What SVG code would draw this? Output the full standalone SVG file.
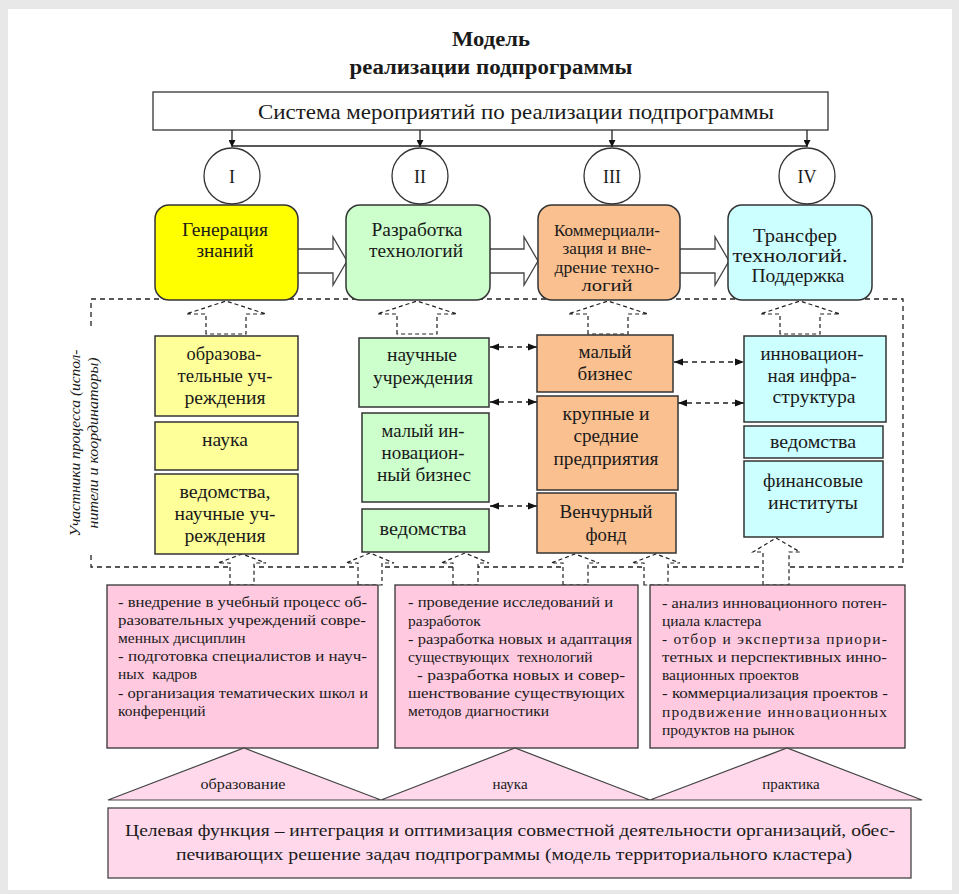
<svg xmlns="http://www.w3.org/2000/svg" width="959" height="894" viewBox="0 0 959 894" font-family="'Liberation Serif', serif">
<defs>
<style>
text{fill:#1a1a1a}
.t{font-size:19px;text-anchor:middle}
.ts{font-size:17px;text-anchor:middle}
.p{font-size:15.5px}
.rb{stroke:#333;stroke-width:1.5}
.bx{stroke:#333;stroke-width:1.5}
.dash{fill:#fff;stroke:#222;stroke-width:1.2;stroke-dasharray:4,3}
.dl{fill:none;stroke:#222;stroke-width:1.3;stroke-dasharray:5,4}
.sl{fill:none;stroke:#222;stroke-width:1.3}
.bk{fill:#fff;stroke:#444;stroke-width:1.3}
.pk{fill:#ffc9df;stroke:#333;stroke-width:1.3}
.tri{fill:#ffd9eb;stroke:#444;stroke-width:1.2}
</style>
<marker id="ah" viewBox="0 0 10 10" refX="10" refY="5" markerWidth="7" markerHeight="7" orient="auto-start-reverse" markerUnits="userSpaceOnUse">
<path d="M0,0 L10,5 L0,10 z" fill="#111"/>
</marker>
<marker id="ad" viewBox="0 0 10 10" refX="10" refY="5" markerWidth="9" markerHeight="9" orient="auto-start-reverse" markerUnits="userSpaceOnUse">
<path d="M0,1 L10,5 L0,9 z" fill="#111"/>
</marker>
</defs>
<rect x="0" y="0" width="959" height="894" fill="#e8e8e8"/>
<rect x="8" y="9" width="944" height="881" fill="#fff"/>

<g id="title" font-family="'Liberation Serif', serif">
<text x="491" y="46" font-size="20" font-weight="bold" text-anchor="middle" textLength="78" lengthAdjust="spacingAndGlyphs">Модель</text>
<text x="491" y="74" font-size="20" font-weight="bold" text-anchor="middle" textLength="283" lengthAdjust="spacingAndGlyphs">реализации подпрограммы</text>
</g>

<g id="system" font-family="'Liberation Serif', serif">
<rect x="153" y="92" width="675" height="38" fill="#fff" stroke="#333" stroke-width="1.3"/>
<text x="516" y="119" font-size="21" text-anchor="middle" textLength="516" lengthAdjust="spacingAndGlyphs">Система мероприятий по реализации подпрограммы</text>
</g>

<g id="connectors">
<line class="sl" x1="232" y1="146" x2="807" y2="146"/>
<line class="sl" x1="232" y1="130" x2="232" y2="147" marker-end="url(#ah)"/>
<line class="sl" x1="420" y1="130" x2="420" y2="147" marker-end="url(#ah)"/>
<line class="sl" x1="612" y1="130" x2="612" y2="147" marker-end="url(#ah)"/>
<line class="sl" x1="807" y1="130" x2="807" y2="147" marker-end="url(#ah)"/>
<path class="bk" d="M298,249 H333 V237 L347,261 L333,285 V273 H298"/>
<path class="bk" d="M490,249 H524 V237 L538,261 L524,285 V273 H490"/>
<path class="bk" d="M680,249 H715 V237 L729,261 L715,285 V273 H680"/>
<rect class="dl" x="91" y="299" width="812" height="268"/>
<path class="dash" d="M206,334 V314 H186 L226,301 L266,314 H246 V334 Z"/>
<path class="dash" d="M397,334 V314 H377 L417,301 L457,314 H437 V334 Z"/>
<path class="dash" d="M588,334 V314 H568 L608,301 L648,314 H628 V334 Z"/>
<path class="dash" d="M780,334 V314 H760 L800,301 L840,314 H820 V334 Z"/>
<path class="dash" d="M230,585 V563 H218 L242,554 L266,563 H254 V585 Z"/>
<path class="dash" d="M358,585 V563 H346 L370,553 L394,563 H382 V585 Z"/>
<path class="dash" d="M453,585 V563 H441 L465,553 L489,563 H478 V585 Z"/>
<path class="dash" d="M563,585 V563 H551 L575,554 L599,563 H588 V585 Z"/>
<path class="dash" d="M644,585 V563 H632 L656,554 L680,563 H668 V585 Z"/>
<path class="dash" d="M763,585 V552 H753 L776,538 L800,552 H789 V585 Z"/>
<line class="dl" x1="490" y1="347" x2="537" y2="347" marker-start="url(#ad)" marker-end="url(#ad)"/>
<line class="dl" x1="490" y1="402" x2="537" y2="402" marker-start="url(#ad)" marker-end="url(#ad)"/>
<line class="dl" x1="490" y1="506" x2="537" y2="506" marker-start="url(#ad)" marker-end="url(#ad)"/>
<line class="dl" x1="674" y1="362" x2="744" y2="362" marker-start="url(#ad)" marker-end="url(#ad)"/>
<line class="dl" x1="678" y1="403" x2="744" y2="403" marker-start="url(#ad)" marker-end="url(#ad)"/>
</g>

<g id="stage-I" font-family="'Liberation Serif', serif">
<ellipse cx="232" cy="176" rx="28" ry="28" fill="#fff" stroke="#333" stroke-width="1.3"/>
<text x="232" y="183" font-size="18" text-anchor="middle">I</text>
</g>
<g id="stage-II" font-family="'Liberation Serif', serif">
<ellipse cx="420" cy="176" rx="28" ry="28" fill="#fff" stroke="#333" stroke-width="1.3"/>
<text x="420" y="183" font-size="18" text-anchor="middle">II</text>
</g>
<g id="stage-III" font-family="'Liberation Serif', serif">
<ellipse cx="612" cy="176" rx="28" ry="28" fill="#fff" stroke="#333" stroke-width="1.3"/>
<text x="612" y="183" font-size="18" text-anchor="middle">III</text>
</g>
<g id="stage-IV" font-family="'Liberation Serif', serif">
<ellipse cx="807" cy="176" rx="28" ry="28" fill="#fff" stroke="#333" stroke-width="1.3"/>
<text x="807" y="183" font-size="18" text-anchor="middle">IV</text>
</g>

<g id="gen" font-family="'Liberation Serif', serif">
<rect class="rb" x="155" y="205" width="143" height="95" rx="14" fill="#ffff00"/>
<text class="t" x="225" y="236" textLength="86" lengthAdjust="spacingAndGlyphs">Генерация</text>
<text class="t" x="225" y="257" textLength="57" lengthAdjust="spacingAndGlyphs">знаний</text>
</g>
<g id="dev" font-family="'Liberation Serif', serif">
<rect class="rb" x="346" y="205" width="144" height="95" rx="14" fill="#ccffcc"/>
<text class="t" x="417" y="236" textLength="91" lengthAdjust="spacingAndGlyphs">Разработка</text>
<text class="t" x="416" y="257" textLength="94" lengthAdjust="spacingAndGlyphs">технологий</text>
</g>
<g id="comm" font-family="'Liberation Serif', serif">
<rect class="rb" x="538" y="205" width="142" height="95" rx="14" fill="#fac090"/>
<text class="ts" x="607" y="236" textLength="106" lengthAdjust="spacingAndGlyphs">Коммерциали-</text>
<text class="ts" x="607" y="254" textLength="89" lengthAdjust="spacingAndGlyphs">зация и вне-</text>
<text class="ts" x="607" y="273" textLength="105" lengthAdjust="spacingAndGlyphs">дрение  техно-</text>
<text class="ts" x="607" y="291" textLength="51" lengthAdjust="spacingAndGlyphs">логий</text>
</g>
<g id="transfer" font-family="'Liberation Serif', serif">
<rect class="rb" x="728" y="205" width="144" height="95" rx="14" fill="#ccffff"/>
<text class="t" x="795" y="242" font-size="20" textLength="84" lengthAdjust="spacingAndGlyphs">Трансфер</text>
<text class="t" x="790" y="262" font-size="20" textLength="115" lengthAdjust="spacingAndGlyphs">технологий.</text>
<text class="t" x="798" y="282" font-size="20" textLength="93" lengthAdjust="spacingAndGlyphs">Поддержка</text>
</g>

<g id="p1-edu" font-family="'Liberation Serif', serif">
<rect class="bx" x="155" y="336" width="143" height="80" fill="#ffff99"/>
<text class="t" x="224" y="360" textLength="75" lengthAdjust="spacingAndGlyphs">образова-</text>
<text class="t" x="225" y="382" textLength="95" lengthAdjust="spacingAndGlyphs">тельные уч-</text>
<text class="t" x="225" y="404" textLength="81" lengthAdjust="spacingAndGlyphs">реждения</text>
</g>
<g id="p1-sci" font-family="'Liberation Serif', serif">
<rect class="bx" x="155" y="422" width="143" height="48" fill="#ffff99"/>
<text class="t" x="225" y="446" textLength="46" lengthAdjust="spacingAndGlyphs">наука</text>
</g>
<g id="p1-dept" font-family="'Liberation Serif', serif">
<rect class="bx" x="155" y="474" width="143" height="80" fill="#ffff99"/>
<text class="t" x="225" y="498" textLength="91" lengthAdjust="spacingAndGlyphs">ведомства,</text>
<text class="t" x="225" y="520" textLength="101" lengthAdjust="spacingAndGlyphs">научные уч-</text>
<text class="t" x="225" y="542" textLength="81" lengthAdjust="spacingAndGlyphs">реждения</text>
</g>

<g id="p2-sci" font-family="'Liberation Serif', serif">
<rect class="bx" x="359" y="338" width="130" height="69" fill="#ccffcc"/>
<text class="t" x="422" y="361" textLength="70" lengthAdjust="spacingAndGlyphs">научные</text>
<text class="t" x="423" y="384" textLength="100" lengthAdjust="spacingAndGlyphs">учреждения</text>
</g>
<g id="p2-small" font-family="'Liberation Serif', serif">
<rect class="bx" x="362" y="413" width="127" height="89" fill="#ccffcc"/>
<text class="t" x="423" y="437" textLength="83" lengthAdjust="spacingAndGlyphs">малый ин-</text>
<text class="t" x="423" y="459" textLength="83" lengthAdjust="spacingAndGlyphs">новацион-</text>
<text class="t" x="424" y="481" textLength="94" lengthAdjust="spacingAndGlyphs">ный бизнес</text>
</g>
<g id="p2-dept" font-family="'Liberation Serif', serif">
<rect class="bx" x="362" y="509" width="127" height="43" fill="#ccffcc"/>
<text class="t" x="423" y="535" textLength="87" lengthAdjust="spacingAndGlyphs">ведомства</text>
</g>

<g id="p3-small" font-family="'Liberation Serif', serif">
<rect class="bx" x="537" y="335" width="136" height="57" fill="#fac090"/>
<text class="t" x="605" y="358" textLength="53" lengthAdjust="spacingAndGlyphs">малый</text>
<text class="t" x="605" y="380" textLength="55" lengthAdjust="spacingAndGlyphs">бизнес</text>
</g>
<g id="p3-large" font-family="'Liberation Serif', serif">
<rect class="bx" x="537" y="396" width="141" height="94" fill="#fac090"/>
<text class="t" x="606" y="420" textLength="87" lengthAdjust="spacingAndGlyphs">крупные и</text>
<text class="t" x="606" y="442" textLength="65" lengthAdjust="spacingAndGlyphs">средние</text>
<text class="t" x="606" y="465" textLength="105" lengthAdjust="spacingAndGlyphs">предприятия</text>
</g>
<g id="p3-venture" font-family="'Liberation Serif', serif">
<rect class="bx" x="537" y="493" width="139" height="60" fill="#fac090"/>
<text class="t" x="606" y="518" textLength="93" lengthAdjust="spacingAndGlyphs">Венчурный</text>
<text class="t" x="606" y="541" textLength="41" lengthAdjust="spacingAndGlyphs">фонд</text>
</g>

<g id="p4-infra" font-family="'Liberation Serif', serif">
<rect class="bx" x="744" y="336" width="142" height="86" fill="#ccffff"/>
<text class="t" x="812" y="360" textLength="103" lengthAdjust="spacingAndGlyphs">инновацион-</text>
<text class="t" x="812" y="382" textLength="89" lengthAdjust="spacingAndGlyphs">ная инфра-</text>
<text class="t" x="814" y="403" textLength="83" lengthAdjust="spacingAndGlyphs">структура</text>
</g>
<g id="p4-dept" font-family="'Liberation Serif', serif">
<rect class="bx" x="744" y="426" width="139" height="32" fill="#ccffff"/>
<text class="t" x="813" y="448" textLength="86" lengthAdjust="spacingAndGlyphs">ведомства</text>
</g>
<g id="p4-fin" font-family="'Liberation Serif', serif">
<rect class="bx" x="744" y="461" width="139" height="76" fill="#ccffff"/>
<text class="t" x="813" y="487" textLength="100" lengthAdjust="spacingAndGlyphs">финансовые</text>
<text class="t" x="813" y="509" textLength="90" lengthAdjust="spacingAndGlyphs">институты</text>
</g>

<g id="participants-label" font-family="'Liberation Serif', serif">
<rect x="64" y="330" width="42" height="222" fill="#fff"/>
<text transform="translate(80,443) rotate(-90)" font-size="15" font-style="italic" text-anchor="middle" textLength="187" lengthAdjust="spacingAndGlyphs">Участники процесса (испол-</text>
<text transform="translate(98,443) rotate(-90)" font-size="15" font-style="italic" text-anchor="middle" textLength="171" lengthAdjust="spacingAndGlyphs">нители и координаторы)</text>
</g>

<g id="tasks-edu" font-family="'Liberation Serif', serif">
<rect class="pk" x="107" y="585" width="271" height="163"/>
<text class="p" x="118" y="607" textLength="249" lengthAdjust="spacingAndGlyphs">-  внедрение в учебный процесс об-</text>
<text class="p" x="118" y="625" textLength="248" lengthAdjust="spacingAndGlyphs">разовательных учреждений совре-</text>
<text class="p" x="118" y="643">менных дисциплин</text>
<text class="p" x="118" y="661" textLength="249" lengthAdjust="spacingAndGlyphs">-  подготовка специалистов и науч-</text>
<text class="p" x="118" y="679" xml:space="preserve">ных  кадров</text>
<text class="p" x="118" y="698" textLength="250" lengthAdjust="spacingAndGlyphs">- организация тематических школ и</text>
<text class="p" x="118" y="716">конференций</text>
</g>
<g id="tasks-sci" font-family="'Liberation Serif', serif">
<rect class="pk" x="395" y="585" width="243" height="163"/>
<text class="p" x="408" y="607" textLength="205" lengthAdjust="spacingAndGlyphs">- проведение исследований и</text>
<text class="p" x="408" y="626">разработок</text>
<text class="p" x="408" y="644" textLength="224" lengthAdjust="spacingAndGlyphs">- разработка новых и адаптация</text>
<text class="p" x="408" y="662" xml:space="preserve">существующих  технологий</text>
<text class="p" x="417" y="680" textLength="208" lengthAdjust="spacingAndGlyphs">- разработка новых и совер-</text>
<text class="p" x="408" y="698" textLength="217" lengthAdjust="spacingAndGlyphs">шенствование существующих</text>
<text class="p" x="408" y="716">методов диагностики</text>
</g>
<g id="tasks-prac" font-family="'Liberation Serif', serif">
<rect class="pk" x="650" y="585" width="255" height="163"/>
<text class="p" x="662" y="608" textLength="225" lengthAdjust="spacingAndGlyphs">- анализ инновационного потен-</text>
<text class="p" x="662" y="626">циала кластера</text>
<text class="p" x="662" y="644" textLength="225" lengthAdjust="spacing">- отбор и экспертиза  приори-</text>
<text class="p" x="662" y="662" textLength="225" lengthAdjust="spacingAndGlyphs">тетных и перспективных инно-</text>
<text class="p" x="662" y="680">вационных проектов</text>
<text class="p" x="662" y="698" textLength="226" lengthAdjust="spacingAndGlyphs">- коммерциализация проектов -</text>
<text class="p" x="662" y="717" textLength="225" lengthAdjust="spacing">продвижение     инновационных</text>
<text class="p" x="662" y="735">продуктов на рынок</text>
</g>

<g id="tri-edu" font-family="'Liberation Serif', serif">
<polygon class="tri" points="108,800 244,748 381,800"/>
<text x="243" y="789" font-size="15" text-anchor="middle" textLength="85" lengthAdjust="spacingAndGlyphs">образование</text>
</g>
<g id="tri-sci" font-family="'Liberation Serif', serif">
<polygon class="tri" points="381,800 515,748 650,800"/>
<text x="510" y="789" font-size="15" text-anchor="middle">наука</text>
</g>
<g id="tri-prac" font-family="'Liberation Serif', serif">
<polygon class="tri" points="650,800 787,748 922,800"/>
<text x="791" y="789" font-size="15" text-anchor="middle">практика</text>
</g>

<g id="goal" font-family="'Liberation Serif', serif">
<rect x="108" y="808" width="803" height="70" fill="#ffd9eb" stroke="#444" stroke-width="1.3"/>
<text x="125" y="836" font-size="17" textLength="770" lengthAdjust="spacingAndGlyphs">Целевая функция – интеграция и оптимизация  совместной деятельности организаций,  обес-</text>
<text x="514" y="860" font-size="17" text-anchor="middle" textLength="676" lengthAdjust="spacingAndGlyphs">печивающих решение задач подпрограммы (модель территориального кластера)</text>
</g>
</svg>
